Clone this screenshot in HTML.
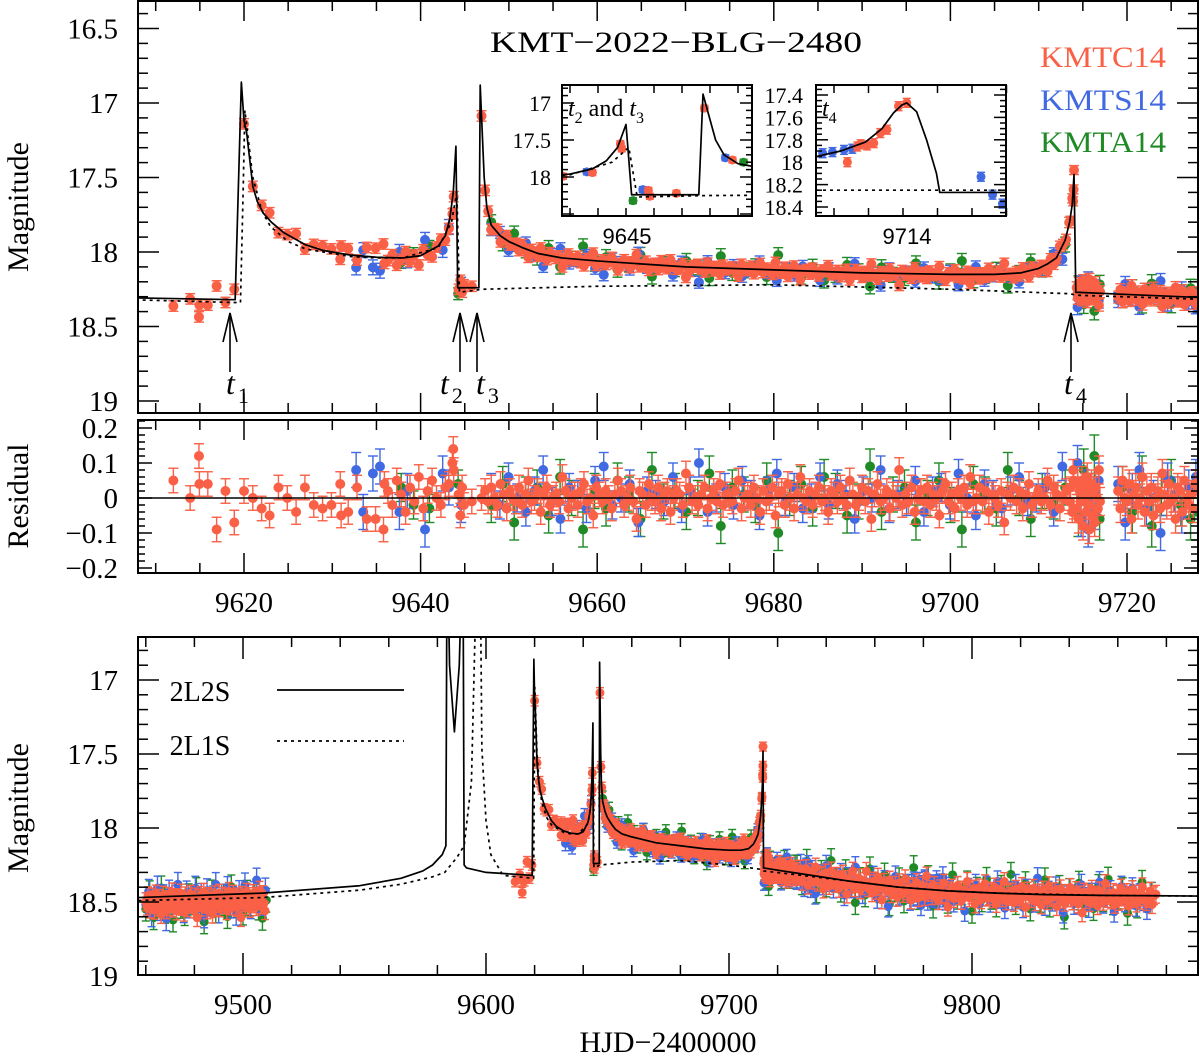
<!DOCTYPE html>
<html><head><meta charset="utf-8">
<style>
html,body{margin:0;padding:0;background:#fff;}
svg{display:block;}
text{font-family:"Liberation Serif",serif;fill:#000;}
</style></head>
<body>
<svg id="chart" width="1200" height="1056" viewBox="0 0 1200 1056" xmlns="http://www.w3.org/2000/svg">
<defs>
<clipPath id="cTop"><rect x="138" y="1" width="1060" height="412"/></clipPath>
<clipPath id="cRes"><rect x="138" y="420" width="1060" height="153"/></clipPath>
<clipPath id="cBot"><rect x="138" y="637" width="1060" height="338"/></clipPath>
<clipPath id="cIn1"><rect x="562" y="85" width="190" height="131"/></clipPath>
<clipPath id="cIn2"><rect x="816" y="85" width="190" height="131"/></clipPath>
</defs>
<g id="layer"></g>
</svg>
<script>
// ---------- model curves ----------
const solidT = [9457,9508,9548,9565,9574,9578,9582,9583.5,9584,9585,9587,9589,9590.5,9591,9592,9600,9619.0,9619.7,9620.0,9620.3,9621,9621.5,9622.2,9623.1,9624.5,9626.9,9629,9632,9635,9638,9640,9642,9642.8,9643.3,9643.7,9644.0,9644.2,9646.6,9646.75,9647.2,9647.5,9648,9649,9650,9651.5,9653.3,9656,9660,9670,9680,9690,9700,9705,9708,9710,9711,9712,9712.5,9713,9713.5,9713.8,9714.0,9714.2,9722,9730,9750,9770,9790,9810,9830,9853,9893];
const solidM = [18.47,18.44,18.39,18.34,18.29,18.25,18.18,18.12,16.0,16.9,17.35,16.9,16.0,18.25,18.27,18.30,18.32,16.86,17.12,17.2,17.56,17.66,17.74,17.80,17.87,17.95,17.99,18.02,18.035,18.04,18.025,17.96,17.89,17.78,17.6,17.29,18.24,18.24,16.88,17.5,17.7,17.82,17.89,17.93,17.97,18.01,18.04,18.06,18.10,18.12,18.14,18.15,18.15,18.14,18.11,18.08,18.04,17.98,17.92,17.8,17.68,17.48,18.27,18.29,18.31,18.36,18.40,18.425,18.44,18.45,18.455,18.46];
const dotT = [9457,9508,9548,9565,9578,9583,9588,9591,9594,9596.5,9597.5,9598.3,9600,9602,9607,9619.6,9619.9,9620.1,9621,9622,9623,9625,9627,9632,9635,9638,9642,9643.5,9644.1,9644.4,9647,9660,9680,9700,9713.5,9714.2,9730,9750,9770,9790,9810,9853,9893];
const dotM = [18.49,18.47,18.42,18.38,18.33,18.3,18.2,18.12,17.69,16.0,16.0,17.46,17.95,18.18,18.32,18.34,17.6,17.05,17.5,17.72,17.83,17.93,17.98,18.03,18.04,18.04,17.97,17.80,17.6,18.27,18.25,18.23,18.22,18.25,18.28,18.29,18.32,18.36,18.40,18.425,18.44,18.455,18.46];
const in4T = [9713.45,9713.6,9713.75,9713.85,9713.92,9713.97,9714.0,9714.06,9714.12,9714.18,9714.2,9714.6];
const in4M = [17.95,17.9,17.82,17.7,17.56,17.49,17.47,17.55,17.8,18.1,18.27,18.27];
const in4DotM = 18.25;

// ---------- data: KMTC14 (residuals in 0.01 mag) ----------
const kmtcEarlyT = [9612.0,9613.9,9614.9,9614.95,9615.9,9616.9,9617.9,9618.9,9620.0,9621.0,9622.0,9622.9,9623.9,9624.9,9625.9,9626.9,9627.9,9628.9,9629.9,9630.9,9631.0,9631.8,9632.8,9633.9,9634.9,9635.8,9635.9,9636.3,9636.8,9637.3,9637.8,9638.3,9638.8,9639.3,9639.8,9640.3,9640.8,9641.3,9641.8,9642.3,9642.8,9643.2,9643.6,9643.7,9643.75,9644.3,9644.5,9644.7,9644.9,9645.8,9646.9];
const kmtcEarlyR = [5,0,12,4,4,-9,2,-7,2,0,-3,-5,3,0,-4,3,-2,-3,-2,4,-5,-4,3,-6,-6,-9,4,2,-2,5,1,-4,3,-1,6,-3,2,5,0,-2,3,4,10,14,8,1,-5,3,-2,-1,0];
const kmtcMidStart = 9647.3, kmtcMidStep = 0.35;
const kmtcMidR = [2,-1,3,0,-2,4,1,-3,2,0,-1,3,-2,1,5,-1,0,2,-4,1,3,-2,0,1,-1,6,2,-3,0,1,-2,2,4,-1,0,-5,3,1,-1,2,0,-3,1,5,2,-2,0,3,-1,-6,2,1,-2,4,0,-1,3,-3,1,2,-4,0,2,1,-2,7,3,-1,0,-2,1,3,-3,0,2,-1,4,-2,1,0,-1,2,5,-3,0,1,-2,3,0,-4,2,-1,0,3,-5,1,2,-2,4,0,-3,1,6,0,-1,2,-2,1,3,-1,0,-4,2,1,-1,3,0,-2,5,1,-2,0,3,-1,2,-6,1,4,-1,0,2,-3,1,0,8,-2,1,-1,3,-4,0,2,-1,3,-2,1,0,-5,2,4,-1,1,-3,2,0,3,-2,6,-1,0,3,-1,2,-4,1,0,-2,2,-7,1,0,3,-1,2,-3,1,4,-2,0,2,-1,0,5,-2,3,1,-3,0,2,-1];
const kmtcT4T = [9713.6,9713.8,9713.9,9713.95,9714.0];
const kmtcT4R = [3,-4,8,5,-3];
const kmtcPostStart = 9714.3, kmtcPostStep = 0.12;
const kmtcPostR = [-3,4,-6,2,-1,5,-8,0,3,-4,6,-2,-9,1,4,-5,2,-7,3,0,-3,8,-1];
const kmtcEndStart = 9719, kmtcEndStep = 0.25;
const kmtcEndR = [2,-3,5,0,-1,4,-6,1,3,-2,0,6,-4,2,-1,3,-5,0,2,-3,7,1,-2,4,-1,0,-6,3,2,-4,5,0,-2,1,-3,4,2];
const kmtcBaseStart = 9460, kmtcBaseStep = 0.45;
const kmtcBaseR = [3,6,-1,4,8,2,0,5,9,-2,4,7,1,3,12,5,-1,6,2,9,3,0,7,4,-3,8,5,2,10,1,6,3,-2,7,4,11,0,5,8,2,4,-1,6,3,9,1,7,15,2,5,0,8,4,-2,6,3,10,1,5,7,2,13,4,0,8,3,6,-1,9,4,1,5,7,2,11,3,-2,6,4,8,0,5,3,9,2,7,4,16,1,6,3,8,-1,5,2,10,4,7,0,6,2,9,3,5,-2,8,4,1,7,12];
const kmtcLateStart = 9728.5, kmtcLateStep = 0.8;
const kmtcLateR = [2,-3,5,0,-4,7,1,-2,3,-6,4,0,-1,8,-3,2,5,-5,1,3,-2,6,0,-4,3,9,-1,2,-7,4,1,-3,5,2,-1,-8,3,0,6,-2,4,-5,1,10,-2,3,0,-4,5,2,-1,7,-3,1,4,-6,2,0,8,-1,3,-4,6,1,-2,5,-9,2,0,4,-3,1,7,-1,3,-5,2,11,0,-2,5,1,-4,3,6,-1,0,-7,4,2,-2,8,1,-3,5,0,-6,3,2,-1,4,-4,7,1,-2,3,-8,5,0,2,-1,6,-3,2,4,-5,1,9,-2,0,3,-4,5,1,-1,7,-3,0,4,-6,2,1,-2,8,0,-4,3,5,-1,2,-5,4,1,-3,6,0,12,-2,3,-1,5,-4,2,0,7,-3,1,4,-8,2,0,3,-2,6,-1,4,-5,1,3,-2,7,0,-4,2,5,-1,3,-6,1,4,2,-3,6,0,-1];

// ---------- data: KMTS14 ----------
const kmtsEarlyT = [9632.7,9633.5,9634.6,9635.4,9637.6,9638.5,9640.5,9642.5,9643.2,9644.6];
const kmtsEarlyR = [8,-4,7,9,-4,2,-9,7,3,-2];
const kmtsMidStart = 9648, kmtsMidStep = 0.98;
const kmtsMidR = [3,-2,6,0,-4,2,8,-1,-6,3,1,-3,5,9,-2,0,4,-7,2,1,-1,6,-3,2,10,-4,0,3,-2,5,1,-5,2,7,-1,3,-3,0,6,-2,4,1,-6,2,0,8,-3,1,-1,5,-4,2,3,-2,7,0,-5,4,1,-3,2,6,-1,0,3,-4,9];
const kmtsPostStart = 9714.4, kmtsPostStep = 0.4;
const kmtsPostR = [10,-6,3,-9,2,-4,5];
const kmtsEndStart = 9719, kmtsEndStep = 0.8;
const kmtsEndR = [4,-7,2,8,-3,0,-10,5,1,-5,3,6];
const kmtsBaseStart = 9460, kmtsBaseStep = 1.2;
const kmtsBaseR = [5,-4,12,2,-6,8,0,15,-3,6,1,-8,4,10,-2,7,3,-5,9,0,14,-3,5,2,-7,11,1,4,-4,8,3,13,-1,6,-6,2,9,0,-9,5,7,-2];
const kmtsLateStart = 9728, kmtsLateStep = 1.5;
const kmtsLateR = [3,-6,8,1,-3,12,-1,5,-8,2,6,0,-4,10,-2,4,-10,3,7,-1,1,-5,9,2,-3,14,0,-7,5,3,-2,8,-4,1,11,-6,2,4,-1,6,-9,3,0,7,-3,5,13,-2,1,-5,8,2,-4,6,0,-8,3,10,-1,4,-6,2,9,-3,1,5,-11,0,7,-2,4,-5,3,12,1,-4,6,0,-7,2,8,-1,3,-9,5,1,-3,11,0,-6,4,2,-5,7,-1,3,9,-2];
const kmtsClusterAStart = 9730, kmtsClusterAStep = 0.3;
const kmtsClusterAR = [2,-4,6,0,-3,8,-6,3,1,-8,5,-2,10,-1];
const kmtsClusterBStart = 9774, kmtsClusterBStep = 0.3;
const kmtsClusterBR = [3,-2,5,0,-4,2,7,-1,-5,4,1,-3,6,2,-6,0,8,-2,3,-4,5,1,-7,2,4,-1,9,-3,0,6,-2,3,-5,1,7,-4,2,0,-8,5,1,-1,4,-6,3,2,-3,6,0,-2,8,-4,1,3];

// ---------- data: KMTA14 ----------
const kmtaEarlyT = [9637.8,9639.2,9641.0,9644.25];
const kmtaEarlyR = [3,-2,-3,4];
const kmtaMidStart = 9648, kmtaMidStep = 1.3;
const kmtaMidR = [-2,4,-7,1,3,-5,6,0,-9,2,-3,5,1,-6,8,-1,2,-4,0,7,-8,3,1,-2,5,-10,0,4,-3,6,2,-5,-1,9,-4,1,3,-7,0,5,-2,-9,4,1,-3,8,0,-6,2,-1,3];
const kmtaPostStart = 9714.5, kmtaPostStep = 0.6;
const kmtaPostR = [-5,8,-2,12,-6];
const kmtaEndStart = 9719.5, kmtaEndStep = 1.1;
const kmtaEndR = [3,-4,6,-8,1,5,-2,-6];
const kmtaBaseStart = 9460, kmtaBaseStep = 1.6;
const kmtaBaseR = [8,-3,14,2,-6,10,4,16,-1,7,12,0,5,-4,9,18,3,-2,11,6,1,15,-5,8,4,13,-1,7,2,10,17,5];
const kmtaLateStart = 9728, kmtaLateStep = 2;
const kmtaLateR = [-4,6,-9,2,10,-3,5,-12,1,7,-6,3,14,-2,8,-10,0,4,-7,12,2,-5,9,-1,-14,6,3,-8,11,0,-3,7,-11,4,1,-6,13,-2,5,-9,3,8,-4,0,-13,6,2,-7,10,-1,4,-10,7,1,-5,15,-3,2,-8,6,0,9,-6,3,-11,5,1,-4,12,-2,7,-9,3,-1];

// ---------- inset data (t, mag, telescope) ----------
const in1T = [9641.75,9642.6,9642.8,9643.8,9643.85,9644.25,9644.6,9644.8,9644.85,9645.8,9646.8,9647.55,9647.8,9648.2];
const in1M = [17.99,17.93,17.94,17.55,17.62,18.32,18.17,18.18,18.26,18.22,17.07,17.74,17.77,17.8];
const in1Tel = ['C','S','C','C','C','A','S','C','C','C','C','S','C','A'];
const in2T = [9713.49,9713.55,9713.62,9713.67,9713.7,9713.72,9713.76,9713.8,9713.84,9713.88,9713.95,9714.0,9713.64,9714.45,9714.52,9714.58];
const in2M = [17.92,17.91,17.89,17.88,17.86,17.84,17.85,17.83,17.74,17.71,17.5,17.47,18.0,18.13,18.29,18.37];
const in2Tel = ['S','S','S','S','C','C','C','C','C','C','C','C','C','S','S','S'];

// ---------- setup ----------
const NS = 'http://www.w3.org/2000/svg';
const layer = document.getElementById('layer');
const COL = {C:'#fa6046', S:'#4169e1', A:'#1f8a26'};
const TELNAME = {C:'kmtc14', S:'kmts14', A:'kmta14'};

function xTop(t){ return 244 + (t-9620)*8.83; }
function yTop(m){ return 252 + (m-18)*149; }
function yRes(r){ return 498 - r*350; }
function xBot(t){ return 243 + (t-9500)*2.43; }
function yBot(m){ return 828 + (m-18)*148; }
function xIn1(t){ return 626 + (t-9644)*28; }
function yIn1(m){ return 103 + (m-17)*74; }
function xIn2(t){ return 816 + (t-9713.45)*165; }
function yIn2(m){ return 95 + (m-17.4)*112; }

function interp(T, M, t){
  if (t <= T[0]) return M[0];
  for (let i=1;i<T.length;i++){ if (t <= T[i]) { const f=(t-T[i-1])/(T[i]-T[i-1]); return M[i-1]+f*(M[i]-M[i-1]); } }
  return M[M.length-1];
}
function mk(tag, attrs, parent){ const e=document.createElementNS(NS,tag); for (const k in attrs) e.setAttribute(k, attrs[k]); (parent||layer).appendChild(e); return e; }

// ---------- build point list ----------
const points = [];
function addSeg(tel, start, step, res, err){ for (let i=0;i<res.length;i++) points.push({t:start+i*step, r:res[i]/100, tel:tel, err:err}); }
function addExp(tel, ts, res, err){ for (let i=0;i<res.length;i++) points.push({t:ts[i], r:res[i]/100, tel:tel, err:err}); }
addExp('A', kmtaEarlyT, kmtaEarlyR, 0.04);
addSeg('A', kmtaMidStart, kmtaMidStep, kmtaMidR, 0.05);
addSeg('A', kmtaPostStart, kmtaPostStep, kmtaPostR, 0.06);
addSeg('A', kmtaEndStart, kmtaEndStep, kmtaEndR, 0.06);
addSeg('A', kmtaBaseStart, kmtaBaseStep, kmtaBaseR, 0.08);
addSeg('A', kmtaLateStart, kmtaLateStep, kmtaLateR, 0.08);
addExp('S', kmtsEarlyT, kmtsEarlyR, 0.05);
addSeg('S', kmtsMidStart, kmtsMidStep, kmtsMidR, 0.04);
addSeg('S', kmtsPostStart, kmtsPostStep, kmtsPostR, 0.05);
addSeg('S', kmtsEndStart, kmtsEndStep, kmtsEndR, 0.05);
addSeg('S', kmtsBaseStart, kmtsBaseStep, kmtsBaseR, 0.08);
addSeg('S', kmtsLateStart, kmtsLateStep, kmtsLateR, 0.07);
addSeg('S', kmtsClusterAStart, kmtsClusterAStep, kmtsClusterAR, 0.05);
addSeg('S', kmtsClusterBStart, kmtsClusterBStep, kmtsClusterBR, 0.05);
addExp('C', kmtcEarlyT, kmtcEarlyR, 0.035);
addSeg('C', kmtcMidStart, kmtcMidStep, kmtcMidR, 0.035);
addExp('C', kmtcT4T, kmtcT4R, 0.03);
addSeg('C', kmtcPostStart, kmtcPostStep, kmtcPostR, 0.04);
addSeg('C', kmtcEndStart, kmtcEndStep, kmtcEndR, 0.04);
addSeg('C', kmtcBaseStart, kmtcBaseStep, kmtcBaseR, 0.06);
addSeg('C', kmtcLateStart, kmtcLateStep, kmtcLateR, 0.06);
points.forEach(p => { p.m = interp(solidT, solidM, p.t) + p.r; });

function drawPt(g, x, y, e1, e2, tel, rad, cap){
  const c = COL[tel];
  const grp = mk('g', {}, g);
  
  
  mk('line', {x1:x, y1:e1, x2:x, y2:e2, stroke:c, 'stroke-width':1.4}, grp);
  mk('line', {x1:x-cap, y1:e1, x2:x+cap, y2:e1, stroke:c, 'stroke-width':1.4}, grp);
  mk('line', {x1:x-cap, y1:e2, x2:x+cap, y2:e2, stroke:c, 'stroke-width':1.4}, grp);
  mk('circle', {cx:x, cy:y, r:rad, fill:c}, grp);
}
function curve(g, T, M, fx, fy, dashed, name, t0, t1){
  let d='';
  for (let i=0;i<T.length;i++){ if (T[i] < t0-50 || T[i] > t1+50) continue; d += (d?'L':'M') + fx(T[i]).toFixed(2)+','+fy(M[i]).toFixed(2); }
  const p = mk('path', {d:d, fill:'none', stroke:'#000', 'stroke-width':1.7, 'stroke-linejoin':'round'}, g);
  if (dashed) p.setAttribute('stroke-dasharray', '3,4');
  
  
}
function txt(x, y, s, size, anchor, name, extra){
  const t = mk('text', {x:x, y:y, 'font-size':size, 'text-anchor':anchor||'middle'});
  t.textContent = s;
  
  
  if (extra) for (const k in extra) t.setAttribute(k, extra[k]);
  return t;
}
function frame(x, y, w, h, name){
  const r = mk('rect', {x:x, y:y, width:w, height:h, fill:'none', stroke:'#000', 'stroke-width':2});
  
  
}
function xTicks(fx, a, b, minor, major, yTopE, yBotE, lMin, lMaj, xl, xr){
  for (let v=Math.ceil(a/minor)*minor; v<=b+1e-9; v+=minor){
    const x=fx(v); if (x<xl||x>xr) continue;
    const isM = Math.abs(v/major - Math.round(v/major)) < 1e-6;
    const L = isM ? lMaj : lMin;
    mk('line', {x1:x, y1:yBotE, x2:x, y2:yBotE-L, stroke:'#000', 'stroke-width':1.5});
    mk('line', {x1:x, y1:yTopE, x2:x, y2:yTopE+L, stroke:'#000', 'stroke-width':1.5});
  }
}
function yTicks(fy, a, b, minor, major, xl, xr, lMin, lMaj, yt, yb){
  const n = Math.round((b-a)/minor);
  for (let i=0;i<=n;i++){
    const v = a + i*minor; const y = fy(v); if (y<yt||y>yb) continue;
    const isM = Math.abs(v/major - Math.round(v/major)) < 1e-6;
    const L = isM ? lMaj : lMin;
    mk('line', {x1:xl, y1:y, x2:xl+L, y2:y, stroke:'#000', 'stroke-width':1.5});
    mk('line', {x1:xr, y1:y, x2:xr-L, y2:y, stroke:'#000', 'stroke-width':1.5});
  }
}

// ---------- TOP PANEL ----------
const gTop = mk('g', {'clip-path':'url(#cTop)'});


points.forEach(p => { if (p.t < 9607 || p.t > 9729) return;
  drawPt(gTop, xTop(p.t), yTop(p.m), yTop(p.m-p.err), yTop(p.m+p.err), p.tel, 5, 5); });
curve(gTop, dotT, dotM, xTop, yTop, true, 'model-2l1s-top', 9608, 9728);
curve(gTop, solidT, solidM, xTop, yTop, false, 'model-2l2s-top', 9608, 9728);
frame(138, 1, 1060, 412, 'top-panel-frame');
xTicks(xTop, 9605, 9730, 5, 20, 1, 413, 10, 20, 139, 1197);
yTicks(yTop, 16.3, 19.1, 0.1, 0.5, 138, 1198, 10, 21, 2, 412);
[16.5,17,17.5,18,18.5,19].forEach(v => txt(118, yTop(v)+10, String(v), 29, 'end', 'top-y-tick-label'));
txt(0,0,'Magnitude',30,'middle','top-y-axis-title',{transform:'translate(28,207) rotate(-90)'});
txt(676, 52, 'KMT\u22122022\u2212BLG\u22122480', 30, 'middle', 'chart-title', {textLength:372, lengthAdjust:'spacingAndGlyphs'});
txt(1166, 67, 'KMTC14', 30, 'end', 'legend-kmtc14', {style:'fill:'+COL.C, textLength:126, lengthAdjust:'spacingAndGlyphs'});
txt(1166, 110, 'KMTS14', 30, 'end', 'legend-kmts14', {style:'fill:'+COL.S, textLength:126, lengthAdjust:'spacingAndGlyphs'});
txt(1166, 152, 'KMTA14', 30, 'end', 'legend-kmta14', {style:'fill:'+COL.A, textLength:126, lengthAdjust:'spacingAndGlyphs'});

// arrows and labels
function arrow(x, name){
  const g = mk('g', {});
  
  
  mk('line', {x1:x, y1:372, x2:x, y2:313, stroke:'#000', 'stroke-width':1.6}, g);
  mk('polyline', {points:(x-7)+',342 '+x+',313 '+(x+7)+',342', fill:'none', stroke:'#000', 'stroke-width':1.6}, g);
}
arrow(230, 't1-arrow'); arrow(460, 't2-arrow'); arrow(477, 't3-arrow'); arrow(1071, 't4-arrow');
function tlab(x, sub, name){
  const t = mk('text', {x:x, y:394, 'font-size':32, 'text-anchor':'start'});
  
  
  const a = document.createElementNS(NS,'tspan'); a.setAttribute('font-style','italic'); a.textContent='t'; t.appendChild(a);
  const b = document.createElementNS(NS,'tspan'); b.setAttribute('font-size','22'); b.setAttribute('dy','9'); b.setAttribute('dx','3'); b.textContent=sub; t.appendChild(b);
}
tlab(226,'1','t1-label'); tlab(440,'2','t2-label'); tlab(476,'3','t3-label'); tlab(1064,'4','t4-label');

// ---------- INSET 1 ----------
mk('rect', {x:562, y:85, width:190, height:131, fill:'#fff'});
const gIn1 = mk('g', {'clip-path':'url(#cIn1)'});


for (let i=0;i<in1T.length;i++) drawPt(gIn1, xIn1(in1T[i]), yIn1(in1M[i]), yIn1(in1M[i]-0.04), yIn1(in1M[i]+0.04), in1Tel[i], 4.5, 4);
curve(gIn1, dotT, dotM, xIn1, yIn1, true, 'inset1-2l1s', 9641, 9649);
curve(gIn1, solidT, solidM, xIn1, yIn1, false, 'inset1-2l2s', 9641, 9649);
frame(562, 85, 190, 131, 'inset-t2-t3-frame');
xTicks(xIn1, 9641, 9649, 1, 1, 85, 216, 8, 8, 563, 751);
yTicks(yIn1, 16.8, 18.5, 0.1, 0.5, 562, 752, 6, 12, 86, 215);
[17,17.5,18].forEach(v => txt(551, yIn1(v)+8, String(v), 22, 'end', 'inset1-y-tick-label'));
(function(){ const t = mk('text', {x:568, y:116, 'font-size':24});
   
  t.innerHTML = '<tspan font-style="italic">t</tspan><tspan font-size="16" dy="7">2</tspan><tspan dy="-7"> and </tspan><tspan font-style="italic">t</tspan><tspan font-size="16" dy="7">3</tspan>'; })();
txt(627, 244, '9645', 22, 'middle', 'inset1-x-tick-label', {style:'font-family:"Liberation Sans",sans-serif'});

// ---------- INSET 2 ----------
mk('rect', {x:816, y:85, width:190, height:131, fill:'#fff'});
const gIn2 = mk('g', {'clip-path':'url(#cIn2)'});


for (let i=0;i<in2T.length;i++) drawPt(gIn2, xIn2(in2T[i]), yIn2(in2M[i]), yIn2(in2M[i]-0.04), yIn2(in2M[i]+0.04), in2Tel[i], 4.5, 4);
(function(){ const p = mk('line', {x1:816, y1:yIn2(in4DotM), x2:1006, y2:yIn2(in4DotM), stroke:'#000', 'stroke-width':1.6, 'stroke-dasharray':'3,4'}, gIn2);
    })();
curve(gIn2, in4T, in4M, xIn2, yIn2, false, 'inset2-2l2s', 9713, 9715);
frame(816, 85, 190, 131, 'inset-t4-frame');
[0,1,2,3,4,5].forEach(i => { const x = 834 + i*34.5; mk('line',{x1:x,y1:216,x2:x,y2:208,stroke:'#000','stroke-width':1.5}); mk('line',{x1:x,y1:85,x2:x,y2:93,stroke:'#000','stroke-width':1.5}); });
yTicks(yIn2, 17.3, 18.5, 0.05, 0.2, 816, 1006, 6, 12, 86, 215);
['17.4','17.6','17.8','18','18.2','18.4'].forEach(s => txt(803, yIn2(parseFloat(s))+8, s, 22, 'end', 'inset2-y-tick-label'));
(function(){ const t = mk('text', {x:822, y:116, 'font-size':24});
   
  t.innerHTML = '<tspan font-style="italic">t</tspan><tspan font-size="16" dy="7">4</tspan>'; })();
txt(907, 244, '9714', 22, 'middle', 'inset2-x-tick-label', {style:'font-family:"Liberation Sans",sans-serif'});

// ---------- RESIDUAL PANEL ----------
const gRes = mk('g', {'clip-path':'url(#cRes)'});


points.forEach(p => { if (p.t < 9607 || p.t > 9729) return;
  drawPt(gRes, xTop(p.t), yRes(p.r), yRes(p.r-p.err), yRes(p.r+p.err), p.tel, 5, 5); });
(function(){ const l = mk('line', {x1:138, y1:yRes(0), x2:1198, y2:yRes(0), stroke:'#000', 'stroke-width':1.6});
    })();
frame(138, 420, 1060, 153, 'residual-panel-frame');
xTicks(xTop, 9605, 9730, 5, 20, 420, 573, 10, 20, 139, 1197);
yTicks(yRes, -0.22, 0.22, 0.02, 0.1, 138, 1198, 7, 14, 421, 572);
['0.2','0.1','0','\u22120.1','\u22120.2'].forEach((s,i) => txt(118, yRes(0.2-i*0.1)+10, s, 29, 'end', 'residual-y-tick-label'));
txt(0,0,'Residual',30,'middle','residual-y-axis-title',{transform:'translate(28,496) rotate(-90)'});
[9620,9640,9660,9680,9700,9720].forEach(v => txt(xTop(v), 612, String(v), 29, 'middle', 'top-x-tick-label'));

// ---------- BOTTOM PANEL ----------
const gBot = mk('g', {'clip-path':'url(#cBot)'});


points.forEach(p => { drawPt(gBot, xBot(p.t), yBot(p.m), yBot(p.m-p.err), yBot(p.m+p.err), p.tel, 4.5, 4); });
curve(gBot, dotT, dotM, xBot, yBot, true, 'model-2l1s-bottom', 9400, 9950);
curve(gBot, solidT, solidM, xBot, yBot, false, 'model-2l2s-bottom', 9400, 9950);
(function(){ const l = mk('line', {x1:xBot(9893), y1:yBot(18.46), x2:1198, y2:yBot(18.46), stroke:'#000', 'stroke-width':1.7});
    })();
frame(138, 637, 1060, 338, 'bottom-panel-frame');
xTicks(xBot, 9440, 9900, 20, 100, 637, 975, 10, 22, 139, 1197);
yTicks(yBot, 16.7, 19.0, 0.1, 0.5, 138, 1198, 10, 21, 638, 975);
[17,17.5,18,18.5,19].forEach(v => txt(118, yBot(v)+10, String(v), 29, 'end', 'bottom-y-tick-label'));
[9500,9600,9700,9800].forEach(v => txt(xBot(v), 1014, String(v), 29, 'middle', 'bottom-x-tick-label'));
txt(0,0,'Magnitude',30,'middle','bottom-y-axis-title',{transform:'translate(28,808) rotate(-90)'});
txt(668, 1052, 'HJD\u22122400000', 30, 'middle', 'x-axis-title');
// legend
txt(200, 701, '2L2S', 28, 'middle', 'legend-2l2s-label');
(function(){ const l = mk('line', {x1:277, y1:690, x2:404, y2:690, stroke:'#000', 'stroke-width':1.7});
    })();
txt(200, 755, '2L1S', 28, 'middle', 'legend-2l1s-label');
(function(){ const l = mk('line', {x1:277, y1:741, x2:404, y2:741, stroke:'#000', 'stroke-width':1.7, 'stroke-dasharray':'3,4'});
    })();
</script>
</body></html>
